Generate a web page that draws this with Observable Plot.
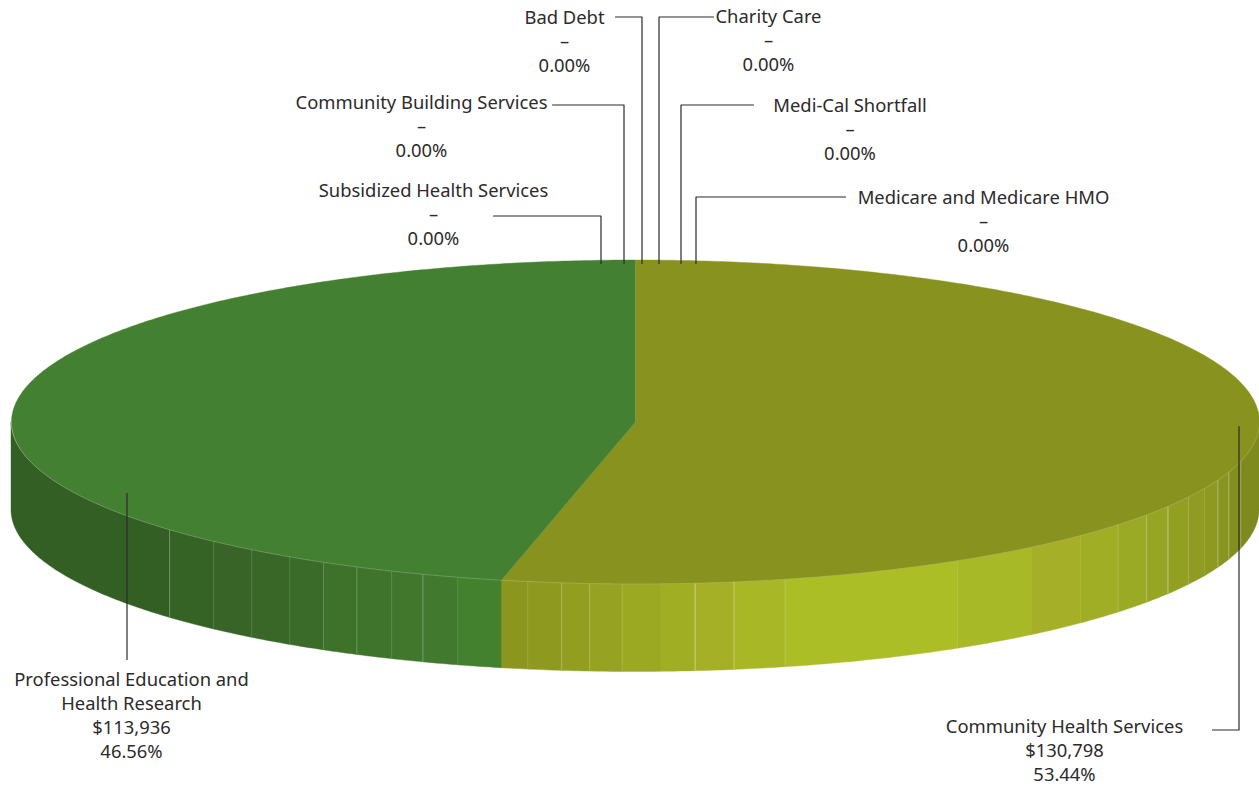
<!DOCTYPE html>
<html>
<head>
<meta charset="utf-8">
<title>Community benefit by category</title>
<style>
  html, body { margin: 0; padding: 0; background: #fff; }
  svg { display: block; }
</style>
<script src="https://cdn.jsdelivr.net/npm/d3@7"></script>
<script src="https://cdn.jsdelivr.net/npm/@observablehq/plot@0.6"></script>
</head>
<body>
<div id="chart"></div>
<script>
// Amounts by category, clockwise from twelve o'clock.
const categories = [
  "Community Health Services",
  "Professional Education and\nHealth Research",
  "Subsidized Health Services",
  "Community Building Services",
  "Bad Debt",
  "Charity Care",
  "Medi-Cal Shortfall",
  "Medicare and Medicare HMO"
];
const amounts = [130798, 113936, 0, 0, 0, 0, 0, 0];

// Top faces of the two non-empty slices.
const topShades = ["#88931f", "#448031"];

// Facets of the rim: interior edges in degrees clockwise from the top, and their shades.
const oliveEdges = [104, 108, 111, 114.2, 117.6, 121.4, 125, 129.3, 134.4, 140.6, 148.9, 166.1, 170.9, 174.5, 177.7, 181.2, 184.2, 186.8, 189.9];
const oliveShades = ["#7f8a1e", "#858f1f", "#889520", "#8d9921", "#8f9b22", "#92a022", "#96a523", "#9aaa24", "#9fae24", "#a5af28", "#a7b926", "#acbe26", "#a8b725", "#a6b027", "#a0ae23", "#9aa822", "#96a322", "#919e20", "#8e991f", "#8b961f"];
const oliveEdgeGlow = [0.15, 0.25, 0.25, 0.08, 0.2, 0.35, 0.25, 0.12, 0.02, 0.02, 0.04, 0.15, 0.25, 0.35, 0.02, 0.15, 0.2, 0.25, 0.06];
const greenEdges = [196.5, 199.9, 203, 206.5, 210, 213.6, 217.9, 222.5, 228.3];
const greenShades = ["#43812f", "#41792e", "#40772d", "#3f742c", "#3e722b", "#3b6b29", "#396727", "#386527", "#356225", "#335f24"];
const greenEdgeGlow = [0.05, 0.2, 0.1, 0.15, 0.2, 0.05, 0.05, 0.08, 0.3];

// Disc geometry in page pixels.
const W = 1259, H = 787;
const cx = 635, cy = 421.5, rx = 624, ry = 162, depth = 88;
const rad = d => d * Math.PI / 180;
const rimX = deg => cx + rx * Math.sin(rad(deg));
const rimY = deg => cy - ry * Math.cos(rad(deg));

const total = d3.sum(amounts);
const arcs = d3.pie().sort(null).startAngle(0).endAngle(2 * Math.PI)(amounts);
const sliceDeg = i => [arcs[i].startAngle * 180 / Math.PI, arcs[i].endAngle * 180 / Math.PI];

// Angles from a to b, always including both ends.
function sweep(a, b, step = 0.5) {
  const out = [];
  for (let t = a; t < b; t += step) out.push(t);
  out.push(b);
  return out;
}

// Top faces: outline of each wedge, closed through the centre.
const wedges = [0, 1].flatMap(i => {
  const [a, b] = sliceDeg(i);
  return [
    {slice: i, x: cx, y: cy, shade: topShades[i]},
    ...sweep(a, b).map(t => ({slice: i, x: rimX(t), y: rimY(t), shade: topShades[i]}))
  ];
});

// Rim facets, split at the slice boundary and at the visible extremes of the ellipse.
const oliveEnd = sliceDeg(0)[1];
const greenEnd = 270;
function facets(start, edges, end, shades, key) {
  const stops = [start, ...edges, end];
  return shades.flatMap((shade, k) =>
    sweep(stops[k], stops[k + 1]).map(t => ({
      facet: key + k, shade, x: rimX(t), top: rimY(t), bottom: rimY(t) + depth
    }))
  );
}
const wall = [
  ...facets(90, oliveEdges, oliveEnd, oliveShades, "o"),
  ...facets(oliveEnd, greenEdges, greenEnd, greenShades, "g")
];
const seams = [
  ...oliveEdges.map((t, k) => ({x: rimX(t), y1: rimY(t), y2: rimY(t) + depth, glow: oliveEdgeGlow[k]})),
  ...greenEdges.map((t, k) => ({x: rimX(t), y1: rimY(t), y2: rimY(t) + depth, glow: greenEdgeGlow[k]}))
];
const rimLine = sweep(90, 270).map(t => ({x: rimX(t), y: rimY(t)}));

// Callout placement per category: text block centre and top, and the leader path.
const callouts = [
  {text: [1064, 715], leader: [[1238.5, 426], [1238.5, 729.5], [1212, 729.5]]},
  {text: [131, 668],  leader: [[126.5, 493], [126.5, 659]]},
  {text: [433, 179],  leader: [[493, 215.5], [600.5, 215.5], [600.5, 263]]},
  {text: [421, 91],   leader: [[552, 104.5], [623.5, 104.5], [623.5, 263]]},
  {text: [564, 6],    leader: [[615, 16.5], [641.5, 16.5], [641.5, 263]]},
  {text: [768, 5],    leader: [[713, 16.5], [658.5, 16.5], [658.5, 263]]},
  {text: [849.5, 94], leader: [[753, 104.5], [680.5, 104.5], [680.5, 263]]},
  {text: [983, 186],  leader: [[845, 196.5], [695.5, 196.5], [695.5, 263]]}
];

const money = d3.format("$,");
const labels = categories.map((name, i) => ({
  x: callouts[i].text[0],
  y: callouts[i].text[1],
  label: `${name}\n${amounts[i] ? money(amounts[i]) : "–"}\n${(amounts[i] / total * 100).toFixed(2)}%`
}));
const leaders = callouts.flatMap((c, i) => c.leader.map(([x, y]) => ({id: i, x, y})));

const labelSize = 18.4;
const chart = Plot.plot({
  width: W,
  height: H,
  margin: 0,
  x: {domain: [0, W], range: [0, W], axis: null},
  y: {domain: [0, H], range: [0, H], axis: null},
  color: {type: "identity"},
  marks: [
    Plot.area(wall, {x1: "x", y1: "top", y2: "bottom", z: "facet", fill: "shade", stroke: "shade", strokeWidth: 0.4}),
    Plot.ruleX(seams, {x: "x", y1: "y1", y2: "y2", stroke: "#fff", strokeOpacity: "glow", strokeWidth: 1}),
    Plot.line(wedges, {x: "x", y: "y", z: "slice", fill: "shade", stroke: "shade", strokeWidth: 0.4}),
    Plot.line(rimLine, {x: "x", y: "y", stroke: "#fff", strokeOpacity: 0.28, strokeWidth: 0.7}),
    Plot.line(leaders, {x: "x", y: "y", z: "id", stroke: "#2b2a2b", strokeWidth: 1.2, curve: "linear"}),
    Plot.text(labels, {
      x: "x", y: "y", text: "label",
      lineAnchor: "top", lineHeight: 24 / labelSize,
      fontFamily: "'Noto Sans', sans-serif", fontSize: labelSize, fill: "#2d2a2b"
    })
  ]
});
document.getElementById("chart").appendChild(chart);
</script>
</body>
</html>
